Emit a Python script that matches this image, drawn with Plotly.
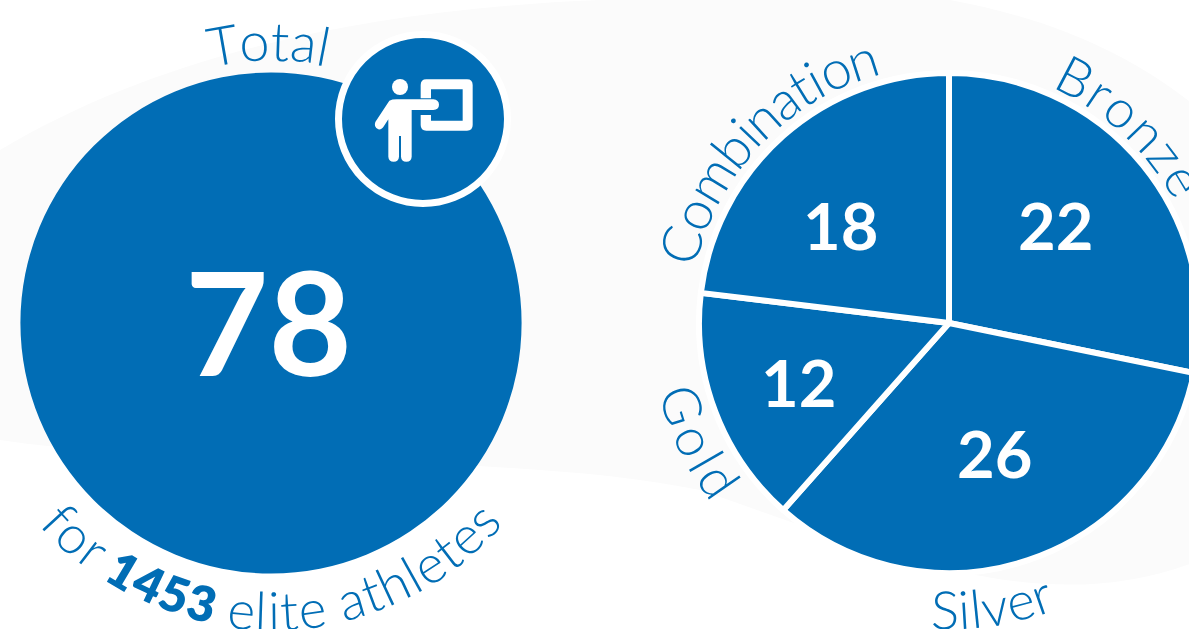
import math
import plotly.graph_objects as go

# Medal breakdown of the elite coaching panel
total_value = [78]
total_label = ["Total"]
medal_labels = ["Bronze", "Silver", "Gold", "Combination"]
medal_values = [22, 26, 12, 18]
footer_parts = [("for ", False), ("1453", True), (" elite athletes", False)]

BLUE = "#016db5"
WIDTH, HEIGHT = 1200, 629
TEXT_FONT = "Lato"
NUMBER_FONT = "Lato"

# Pie centres and radii, in page pixels
LEFT = (271, 323, 250.5)
RIGHT = (949, 323, 250)

# Relative glyph advances, used to spread letters along an arc
ADVANCE = {" ": .26, "a": .52, "b": .58, "B": .62, "C": .68, "d": .58, "e": .54, "f": .36,
           "G": .72, "h": .56, "i": .25, "l": .25, "m": .88, "n": .56, "o": .60, "r": .38,
           "s": .44, "S": .54, "t": .36, "T": .60, "v": .52, "z": .48,
           "1": .50, "3": .56, "4": .58, "5": .56}


def px(x):
    return x / WIDTH


def py(y):
    return 1 - y / HEIGHT


def domain(c):
    cx, cy, r = c
    return dict(x=[px(cx - r), px(cx + r)], y=[py(cy + r), py(cy - r)])


def arc_text(parts, centre, mid_angle, span, radius, size, flip=False, color=BLUE):
    """Lay text along a circle, one rotated annotation per character."""
    cx, cy = centre
    chars = [(ch, bold) for part, bold in parts for ch in part]
    widths = [ADVANCE[ch] for ch, bold in chars]
    per_unit = span / sum(widths)
    direction = -1 if flip else 1
    angle = mid_angle - direction * span / 2
    out = []
    for (ch, bold), w in zip(chars, widths):
        a = angle + direction * per_unit * w / 2
        angle += direction * per_unit * w
        if ch == " ":
            continue
        rad = math.radians(a)
        tilt = a - 180 if flip else a
        tilt = (tilt + 180) % 360 - 180
        out.append(dict(
            text=ch, xref="paper", yref="paper", showarrow=False,
            x=px(cx + radius * math.sin(rad)), y=py(cy - radius * math.cos(rad)),
            xanchor="center", yanchor="middle", textangle=tilt,
            font=dict(family=TEXT_FONT, size=size * (0.92 if bold else 1), color=color,
                      weight=800 if bold else 300),
        ))
    return out


def number(value, x, y, size):
    return dict(text=str(value), xref="paper", yref="paper", showarrow=False,
                x=px(x), y=py(y), xanchor="center", yanchor="middle",
                font=dict(family=NUMBER_FONT, size=size, color="white", weight=700))


def path_shape(cmds, fill, layer="above"):
    """Build a filled path from (command, x, y, ...) tuples given in page pixels."""
    d = ""
    for c in cmds:
        d += c[0]
        nums = c[1:]
        d += " ".join(f"{px(nums[i]):.5f},{py(nums[i + 1]):.5f}" for i in range(0, len(nums), 2)) + " "
    return dict(type="path", xref="paper", yref="paper", path=d, fillcolor=fill,
                line=dict(width=0), layer=layer)


def ic(x, y):
    # Presenter pictogram grid: 3 grid steps per pixel, placed on the badge
    return 330 + x / 3, 30 + y / 3


def icon_path(steps):
    cmds = []
    for s in steps:
        vals = []
        for i in range(1, len(s), 2):
            vals += ic(s[i], s[i + 1])
        cmds.append((s[0], *vals))
    cmds.append(("Z",))
    return path_shape(cmds, "white")


board = [("M", 272, 205), ("L", 272, 165), ("Q", 272, 148, 289, 148), ("L", 411, 148),
         ("Q", 428, 148, 428, 165), ("L", 428, 285), ("Q", 428, 302, 411, 302), ("L", 289, 302),
         ("Q", 272, 302, 272, 285), ("L", 272, 255), ("L", 303, 255), ("L", 303, 272),
         ("L", 398, 272), ("L", 398, 178), ("L", 303, 178), ("L", 303, 205)]
figure = [("M", 178, 212), ("L", 136, 276), ("Q", 130, 292, 145, 298), ("Q", 155, 300, 162, 288),
          ("L", 175, 268), ("L", 175, 380), ("Q", 176, 395, 191, 395), ("Q", 206, 395, 207, 380),
          ("L", 207, 318), ("L", 213, 318), ("L", 213, 380), ("Q", 214, 395, 229, 395),
          ("Q", 244, 395, 245, 380), ("L", 245, 240), ("L", 310, 240), ("Q", 327, 238, 327, 224),
          ("Q", 327, 210, 310, 208), ("L", 200, 208), ("Q", 186, 208, 178, 212)]

shapes = [
    # Pale wash behind the charts
    path_shape([("M", 0, 150), ("C", 150, 60, 350, 10, 600, 0), ("L", 950, 0),
                ("C", 1060, 20, 1140, 60, 1200, 110), ("L", 1200, 560),
                ("C", 1050, 620, 900, 560, 700, 490), ("C", 500, 450, 200, 470, 0, 440), ("Z",)],
               "#fbfbfb", layer="below"),
    # Badge overlapping the total circle
    dict(type="circle", xref="paper", yref="paper", x0=px(423 - 84.5), x1=px(423 + 84.5),
         y0=py(119 + 84.5), y1=py(119 - 84.5), fillcolor=BLUE, line=dict(color="white", width=7)),
    dict(type="circle", xref="paper", yref="paper", x0=px(400 - 8), x1=px(400 + 8),
         y0=py(87 + 8), y1=py(87 - 8), fillcolor="white", line=dict(width=0)),
    icon_path(board),
    icon_path(figure),
]

fig = go.Figure()
fig.add_trace(go.Pie(
    labels=total_label, values=total_value, domain=domain(LEFT), sort=False,
    marker=dict(colors=[BLUE], line=dict(width=0)), textinfo="none", hoverinfo="label+value",
))
fig.add_trace(go.Pie(
    labels=medal_labels, values=medal_values, domain=domain(RIGHT), sort=False,
    direction="clockwise", rotation=0,
    marker=dict(colors=[BLUE] * len(medal_values), line=dict(color="white", width=6)),
    textinfo="none", hoverinfo="label+value",
))

left_c, right_c = LEFT[:2], (947, 323)
annotations = [number(total_value[0], 268, 320, 144)]
annotations += [number(v, x, y, 65) for v, (x, y) in zip(medal_values, [(1055, 225), (994, 453), (798, 382), (840, 225)])]
annotations += arc_text([(total_label[0], False)], left_c, -0.5, 25.5, 283, 54)
annotations += arc_text(footer_parts, left_c, 180, 98.5, 287, 53, flip=True)
annotations += arc_text([(medal_labels[0], False)], right_c, 43, 38, 278, 53)
annotations += arc_text([(medal_labels[1], False)], right_c, 171, 24, 286, 53, flip=True)
annotations += arc_text([(medal_labels[2], False)], right_c, 244.5, 25, 276, 53, flip=True)
annotations += arc_text([(medal_labels[3], False)], right_c, 314, 62.5, 278, 54)

fig.update_layout(
    width=WIDTH, height=HEIGHT, margin=dict(l=0, r=0, t=0, b=0, pad=0), showlegend=False,
    paper_bgcolor="white", plot_bgcolor="white", shapes=shapes, annotations=annotations,
)
fig.write_html("out.html", config={"displayModeBar": False},
               post_script="document.documentElement.style.overflow='hidden';document.body.style.overflow='hidden';")
